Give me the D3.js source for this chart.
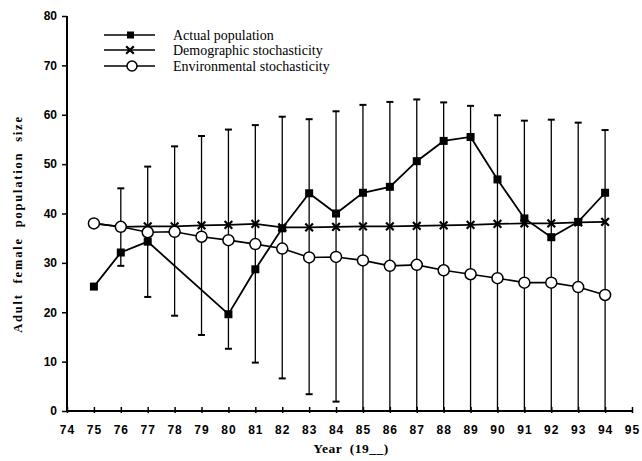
<!DOCTYPE html>
<html><head><meta charset="utf-8">
<script src="https://cdn.jsdelivr.net/npm/d3@7"></script>
<style>body{margin:0;background:#fff}svg{display:block}</style>
</head><body>
<svg id="c" width="642" height="461"></svg>
<script>
const years = [75,76,77,78,79,80,81,82,83,84,85,86,87,88,89,90,91,92,93,94];
const actual = [25.2,32.1,34.3,null,null,19.6,28.7,37.0,44.1,40.0,44.2,45.4,50.6,54.7,55.5,46.9,39.0,35.2,38.3,44.2];
const demographic = [38.0,37.3,37.4,37.4,37.6,37.7,37.9,37.2,37.2,37.3,37.4,37.4,37.5,37.6,37.7,37.9,38.0,38.0,38.2,38.3];
const environmental = [38.0,37.3,36.2,36.3,35.3,34.6,33.8,32.9,31.1,31.2,30.5,29.4,29.6,28.5,27.7,26.9,26.0,26.0,25.1,23.5];
const barYears = [76,77,78,79,80,81,82,83,84,85,86,87,88,89,90,91,92,93,94];
const barHigh = [45.1,49.5,53.6,55.7,57.0,57.9,59.6,59.1,60.7,62.0,62.6,63.1,62.5,61.8,59.9,58.8,59.0,58.4,56.9];
const barLow = [29.4,23.1,19.3,15.4,12.6,9.8,6.6,3.4,1.9,0,0,0,0,0,0,0,0,0,0];
const xTicks = d3.range(74,96);
const yTicks = [0,10,20,30,40,50,60,70,80];
const legendNames = ["Actual population","Demographic stochasticity","Environmental stochasticity"];
const xTitle = "Year  (19__)";
const yTitle = "Adult  female  population  size";

const svg = d3.select("#c");
const x = d3.scaleLinear().domain([74,95]).range([67,632]);
const y = d3.scaleLinear().domain([0,80]).range([411,16]);

// axes
const gx = svg.append("g").attr("transform",`translate(0,${y(0)})`)
  .call(d3.axisBottom(x).tickValues(xTicks).tickFormat(d=>d).tickSize(4).tickPadding(10));
gx.selectAll(".tick line").attr("y1",-4).attr("y2",2);
const gy = svg.append("g").attr("transform",`translate(${x(74)},0)`)
  .call(d3.axisLeft(y).tickValues(yTicks).tickSize(5).tickPadding(5));
[gx,gy].forEach(g=>{
  g.select(".domain").attr("stroke","#000").attr("stroke-width",2);
  g.selectAll(".tick line").attr("stroke","#000").attr("stroke-width",1.5);
  g.selectAll(".tick text").attr("fill","#000").attr("font-family","Liberation Sans, Arial, sans-serif")
    .attr("font-size",12).attr("font-weight","bold");
});
gx.selectAll(".tick text").attr("letter-spacing",1);
gx.select(".domain").attr("d",`M${x(74)},0H${x(95)}`);
gy.select(".domain").attr("d",`M0,${y(0)}V${y(80)}`);

// titles
svg.append("text").attr("x",351).attr("y",453).attr("text-anchor","middle")
  .attr("font-family","Liberation Serif, Times New Roman, serif").attr("font-weight","bold")
  .attr("font-size",13.5).attr("letter-spacing",0.5).style("white-space","pre").text(xTitle);
svg.append("text").attr("transform","translate(22,224) rotate(-90)").attr("text-anchor","middle")
  .attr("font-family","Liberation Serif, Times New Roman, serif").attr("font-weight","bold")
  .attr("font-size",12.5).attr("letter-spacing",1.8).style("white-space","pre").text(yTitle);

// error bars
const bars = barYears.map((yr,i)=>({yr,hi:barHigh[i],lo:barLow[i]}));
const gb = svg.append("g").attr("stroke","#000");
gb.selectAll(".v").data(bars).join("line")
  .attr("x1",d=>x(d.yr)).attr("x2",d=>x(d.yr)).attr("y1",d=>y(d.hi)).attr("y2",d=>y(d.lo)).attr("stroke-width",1.3);
gb.selectAll(".t").data(bars).join("line")
  .attr("x1",d=>x(d.yr)-3.5).attr("x2",d=>x(d.yr)+3.5).attr("y1",d=>y(d.hi)).attr("y2",d=>y(d.hi)).attr("stroke-width",2);
gb.selectAll(".b").data(bars.filter(d=>d.lo>0)).join("line")
  .attr("x1",d=>x(d.yr)-3.5).attr("x2",d=>x(d.yr)+3.5).attr("y1",d=>y(d.lo)).attr("y2",d=>y(d.lo)).attr("stroke-width",2);

const line = d3.line().defined(d=>d.v!=null).x(d=>x(d.yr)).y(d=>y(d.v));
const mk = arr => years.map((yr,i)=>({yr,v:arr[i]}));

// demographic
const dem = mk(demographic);
svg.append("path").datum(dem).attr("d",line).attr("fill","none").attr("stroke","#000").attr("stroke-width",1.6);
const xsym = d3.symbol(d3.symbolX,40);
svg.append("g").selectAll("path").data(dem).join("path")
  .attr("transform",d=>`translate(${x(d.yr)},${y(d.v)})`).attr("d",xsym).attr("stroke","#000").attr("stroke-width",2.2).attr("fill","none");

// environmental
const env = mk(environmental);
svg.append("path").datum(env).attr("d",line).attr("fill","none").attr("stroke","#000").attr("stroke-width",1.6);
svg.append("g").selectAll("circle").data(env).join("circle")
  .attr("cx",d=>x(d.yr)).attr("cy",d=>y(d.v)).attr("r",5.5).attr("fill","#fff").attr("stroke","#000").attr("stroke-width",1.5);

// actual
const act = mk(actual).filter(d=>d.v!=null);
svg.append("path").datum(act).attr("d",line).attr("fill","none").attr("stroke","#000").attr("stroke-width",1.8);
svg.append("g").selectAll("rect").data(act).join("rect")
  .attr("x",d=>x(d.yr)-4).attr("y",d=>y(d.v)-4).attr("width",8).attr("height",8).attr("fill","#000");

// legend
const lg = svg.append("g");
const ly = [35,50,66];
legendNames.forEach((name,i)=>{
  const g = lg.append("g").attr("transform",`translate(0,${ly[i]})`);
  g.append("line").attr("x1",104).attr("x2",155).attr("stroke","#000").attr("stroke-width",1.6);
  if(i===0) g.append("rect").attr("x",127).attr("y",-3.5).attr("width",7).attr("height",7).attr("fill","#000");
  if(i===1) g.append("path").attr("transform","translate(130,0)").attr("d",xsym).attr("stroke","#000").attr("stroke-width",2.2);
  if(i===2) g.append("circle").attr("cx",132).attr("r",5).attr("fill","#fff").attr("stroke","#000").attr("stroke-width",1.5);
  g.append("text").attr("x",173).attr("y",4.5).attr("font-family","Liberation Serif, Times New Roman, serif")
    .attr("font-size",14).attr("fill","#000").text(name);
});
</script>
</body></html>
